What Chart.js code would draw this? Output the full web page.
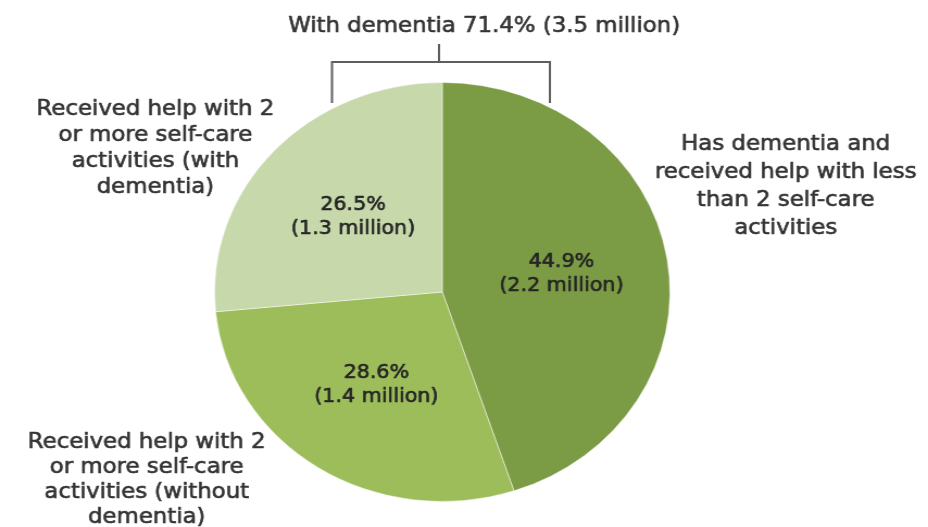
<!DOCTYPE html>
<html>
<head>
<meta charset="utf-8">
<script src="https://cdn.jsdelivr.net/npm/chart.js@4/dist/chart.umd.min.js"></script>
<style>
  html, body { margin: 0; padding: 0; background: #ffffff; overflow: hidden; }
  #wrap { width: 928px; height: 527px; overflow: hidden; position: relative; }
  #c { position: absolute; left: 0; top: 0; transform-origin: 0 0; transform: scaleX(1.0867); }
</style>
</head>
<body>
<div id="wrap"><canvas id="c" width="854" height="527"></canvas></div>
<script>
// ---- data ----
const categories = [
  ['Has dementia and', 'received help with less', 'than 2 self-care', 'activities'],
  ['Received help with 2', 'or more self-care', 'activities (without', 'dementia)'],
  ['Received help with 2', 'or more self-care', 'activities (with', 'dementia)']
];
const percentValues = [44.9, 28.6, 26.5];
const millionValues = [2.2, 1.4, 1.3];
const groupLabel = 'With dementia';
const groupPercent = 71.4;
const groupMillion = 3.5;

const sliceColors = ['#7b9b45', '#9dbd5b', '#c7d8aa'];

const FONT = '"DejaVu Sans", Verdana, sans-serif';

function heavyText(ctx, t, x, y) {
  ctx.strokeText(t, x, y);
  ctx.fillText(t, x, y);
}

const labelPlugin = {
  id: 'labels',
  afterDatasetsDraw(chart) {
    const ctx = chart.ctx;
    const meta = chart.getDatasetMeta(0);
    ctx.save();
    ctx.lineJoin = 'round';
    // inside slice labels
    ctx.fillStyle = '#252525';
    ctx.strokeStyle = '#252525';
    ctx.lineWidth = 0.6;
    ctx.font = '19px ' + FONT;
    ctx.textAlign = 'center';
    ctx.textBaseline = 'middle';
    meta.data.forEach((arc, i) => {
      const p = arc.getProps(['x', 'y', 'startAngle', 'endAngle', 'outerRadius']);
      const mid = (p.startAngle + p.endAngle) / 2;
      const r = p.outerRadius * 0.53;
      const x = p.x + Math.cos(mid) * r;
      const y = p.y + Math.sin(mid) * r;
      heavyText(ctx, percentValues[i].toFixed(1) + '%', x, y - 12);
      heavyText(ctx, '(' + millionValues[i].toFixed(1) + ' million)', x, y + 12);
    });

    // outer category labels
    ctx.fillStyle = '#333333';
    ctx.strokeStyle = '#333333';
    ctx.font = '21px ' + FONT;
    const outer = [
      { x: 723, y: 145, dy: 28 },
      { x: 135, y: 443, dy: 25 },
      { x: 143, y: 110, dy: 26 }
    ];
    categories.forEach((lines, i) => {
      const o = outer[i];
      lines.forEach((t, k) => heavyText(ctx, t, o.x, o.y + k * o.dy));
    });

    // group title
    heavyText(ctx, groupLabel + ' ' + groupPercent.toFixed(1) + '% (' + groupMillion.toFixed(1) + ' million)', 445.5, 27);

    // bracket
    ctx.strokeStyle = '#5e5e5e';
    ctx.lineWidth = 2;
    ctx.lineJoin = 'miter';
    ctx.beginPath();
    ctx.moveTo(404, 44);
    ctx.lineTo(404, 62);
    ctx.moveTo(305.5, 103);
    ctx.lineTo(305.5, 62);
    ctx.lineTo(506, 62);
    ctx.lineTo(506, 103);
    ctx.stroke();
    ctx.restore();
  }
};

new Chart(document.getElementById('c'), {
  type: 'pie',
  data: {
    labels: categories.map(l => l.join(' ')),
    datasets: [{
      data: percentValues,
      backgroundColor: sliceColors,
      borderColor: 'rgba(255,255,255,0.45)',
      borderWidth: 1
    }]
  },
  options: {
    responsive: false,
    animation: false,
    layout: { padding: { top: 82, bottom: 25, left: 197, right: 237 } },
    plugins: {
      legend: { display: false },
      tooltip: { enabled: false }
    }
  },
  plugins: [labelPlugin]
});
</script>
</body>
</html>
